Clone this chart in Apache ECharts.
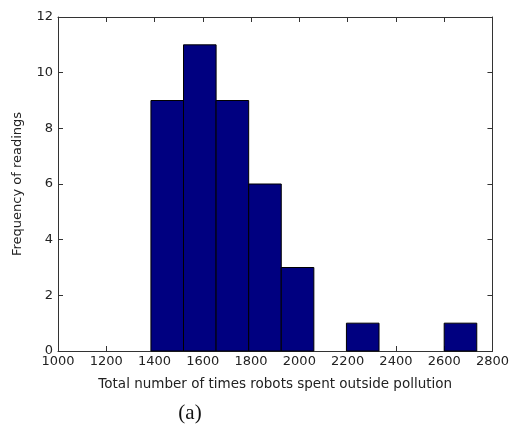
<!DOCTYPE html>
<html>
<head>
<meta charset="utf-8">
<script src="https://cdn.jsdelivr.net/npm/echarts@6/dist/echarts.min.js"></script>
<style>
  html, body { margin: 0; padding: 0; background: #fff; }
  #chart { width: 512px; height: 424px; }
</style>
</head>
<body>
<div id="chart"></div>
<script>
// Histogram of total times robots spent outside pollution (10 equal bins)
const binEdges = [1385, 1520, 1655, 1790, 1925, 2060, 2195, 2330, 2465, 2600, 2735];
const counts = [9, 11, 9, 6, 3, 0, 1, 0, 0, 1];
const xTicks = [1000, 1200, 1400, 1600, 1800, 2000, 2200, 2400, 2600, 2800];
const yTicks = [0, 2, 4, 6, 8, 10, 12];

const bins = counts.map((c, i) => [binEdges[i], binEdges[i + 1], c]);

const axisColor = '#333';
const labelFont = { fontFamily: 'DejaVu Sans', fontSize: 13, color: '#222' };

const chart = echarts.init(document.getElementById('chart'), null, { renderer: 'canvas' });

const xBase = {
  type: 'value',
  min: xTicks[0],
  max: xTicks[xTicks.length - 1],
  interval: 200,
  axisLine: { onZero: false, lineStyle: { color: axisColor, width: 1 } },
  axisTick: { inside: true, length: 5, lineStyle: { color: axisColor } },
  splitLine: { show: false }
};
const yBase = {
  type: 'value',
  min: yTicks[0],
  max: yTicks[yTicks.length - 1],
  interval: 2,
  axisLine: { show: true, onZero: false, lineStyle: { color: axisColor, width: 1 } },
  axisTick: { show: true, inside: true, length: 5, lineStyle: { color: axisColor } },
  splitLine: { show: false }
};

chart.setOption({
  animation: false,
  backgroundColor: '#fff',
  title: {
    text: '(a)',
    left: 185,
    top: 398,
    textAlign: 'center',
    textStyle: { fontFamily: 'Liberation Serif', fontSize: 21, fontWeight: 'normal', color: '#111' }
  },
  grid: { left: 58, right: 17, top: 17, bottom: 73, containLabel: false },
  xAxis: [
    Object.assign({}, xBase, {
      position: 'bottom',
      name: 'Total number of times robots spent outside pollution',
      nameLocation: 'middle',
      nameGap: 26,
      nameTextStyle: Object.assign({}, labelFont, { fontSize: 13.5 }),
      axisLabel: Object.assign({}, labelFont, { margin: 4, formatter: v => String(v) })
    }),
    Object.assign({}, xBase, { position: 'top', axisLabel: { show: false } })
  ],
  yAxis: [
    Object.assign({}, yBase, {
      position: 'left',
      name: 'Frequency of readings',
      nameLocation: 'middle',
      nameGap: 34,
      nameRotate: 90,
      nameTextStyle: Object.assign({}, labelFont, { fontSize: 13 }),
      axisLabel: Object.assign({}, labelFont, { margin: 5, formatter: v => String(v) })
    }),
    Object.assign({}, yBase, { position: 'right', axisLabel: { show: false } })
  ],
  series: [{
    type: 'custom',
    xAxisIndex: 0,
    yAxisIndex: 0,
    data: bins,
    encode: { x: [0, 1], y: 2 },
    renderItem: function (params, api) {
      if (api.value(2) <= 0) return null;
      const p0 = api.coord([api.value(0), 0]);
      const p1 = api.coord([api.value(1), api.value(2)]);
      return {
        type: 'rect',
        shape: { x: p0[0], y: p1[1], width: p1[0] - p0[0], height: p0[1] - p1[1] },
        style: { fill: '#000080', stroke: '#000', lineWidth: 1 }
      };
    }
  }]
});
</script>
</body>
</html>
